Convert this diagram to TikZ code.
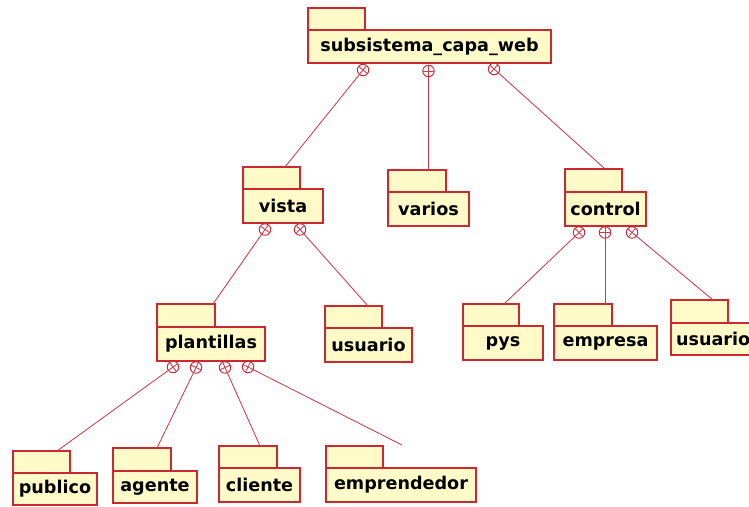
\documentclass[tikz,border=0pt]{standalone}
\usepackage{fontspec}
\setsansfont{DejaVu Sans}
\usetikzlibrary{calc}

\definecolor{pkgfill}{RGB}{255,251,200}
\definecolor{pkgline}{RGB}{204,40,50}
\definecolor{linkline}{RGB}{200,60,80}

\tikzset{
  pkgpart/.style={draw=pkgline, fill=pkgfill, line width=1.1pt, rectangle,
    inner sep=0pt, outer sep=0pt, anchor=north west},
  pkgbody/.style={pkgpart, font=\sffamily\bfseries\fontsize{17.6}{18}\selectfont,
    text=black},
  joint/.style={draw=pkgline, circle, line width=0.9pt, minimum size=11.5pt,
    inner sep=0pt, fill=white},
  link/.style={draw=linkline, line width=0.85pt},
}

% package: [body options] name, tab x1, tab x2, tab y1, body x2, body y1, body y2, label
\newcommand\umlpkg[9][]{%
  \node[pkgpart, minimum width=#4-#3, minimum height=#7-#5] (#2-tab) at (#3,#5) {};
  \node[pkgbody, minimum width=#6-#3, minimum height=#8-#7, #1] (#2) at (#3,#7) {#9};
}

\def\jr{5.75pt}
% containment link: circle name, circle centre, child end point
\newcommand\containlink[3]{%
  \node[joint] (#1) at #2 {};
  \draw[link] (#3) -- ($(#1.center)!-\jr!(#3)$);
  \draw[link] ($(#1.center)!\jr!90:(#3)$) -- ($(#1.center)!\jr!-90:(#3)$);
}

\begin{document}
\begin{tikzpicture}[x=1pt,y=-1pt]
\useasboundingbox (0,0) rectangle (749,506);

% packages
\umlpkg{web}{308}{365}{8}{551}{30}{63}{subsistema\_capa\_web}
\umlpkg{vista}{243}{300}{167}{323}{189}{223}{vista}
\umlpkg{varios}{388}{446}{170}{469}{192}{226}{varios}
\umlpkg{control}{565}{622}{169}{646}{192}{226}{control}
\umlpkg{plantillas}{157}{215}{304}{265}{327}{361}{plantillas}
\umlpkg{usuariov}{325}{382}{306}{412}{328}{362}{usuario}
\umlpkg{pys}{463}{519}{304}{543}{326}{360}{pys}
\umlpkg{empresa}{554}{612}{304}{657}{326}{360}{empresa}
\umlpkg[inner xsep=5pt, text width=77pt, align=left]{usuarioc}{671}{728}{300}{758}{323}{355}{usuario}
\umlpkg{publico}{13}{70}{451}{97}{473}{505}{publico}
\umlpkg{agente}{113}{171}{448}{197}{471}{503}{agente}
\umlpkg{cliente}{219}{277}{446}{300}{468}{502}{cliente}
\umlpkg{emprendedor}{326}{383}{446}{476}{468}{502}{emprendedor}

% where the links meet the child packages
\coordinate (vista-in) at (285,167);
\coordinate (varios-in) at (428.5,170);
\coordinate (control-in) at (604,168);
\coordinate (plantillas-in) at (213,304);
\coordinate (usuariov-in) at (368,306);
\coordinate (pys-in) at (504,304);
\coordinate (empresa-in) at (605,304);
\coordinate (usuarioc-in) at (713,300);
\coordinate (publico-in) at (57,451);
\coordinate (agente-in) at (157,448);
\coordinate (cliente-in) at (260,446);
\coordinate (emprendedor-in) at (402,445);

% containment links
\containlink{jw1}{(363,70)}{vista-in}
\containlink{jw2}{(428.5,71)}{varios-in}
\containlink{jw3}{(494,69)}{control-in}
\containlink{jv1}{(265,229.5)}{plantillas-in}
\containlink{jv2}{(300,229.5)}{usuariov-in}
\containlink{jc1}{(579,232.5)}{pys-in}
\containlink{jc2}{(605,232.5)}{empresa-in}
\containlink{jc3}{(632,232.5)}{usuarioc-in}
\containlink{jp1}{(173,367)}{publico-in}
\containlink{jp2}{(196,367.5)}{agente-in}
\containlink{jp3}{(225,367.5)}{cliente-in}
\containlink{jp4}{(248,367)}{emprendedor-in}
\end{tikzpicture}
\end{document}
